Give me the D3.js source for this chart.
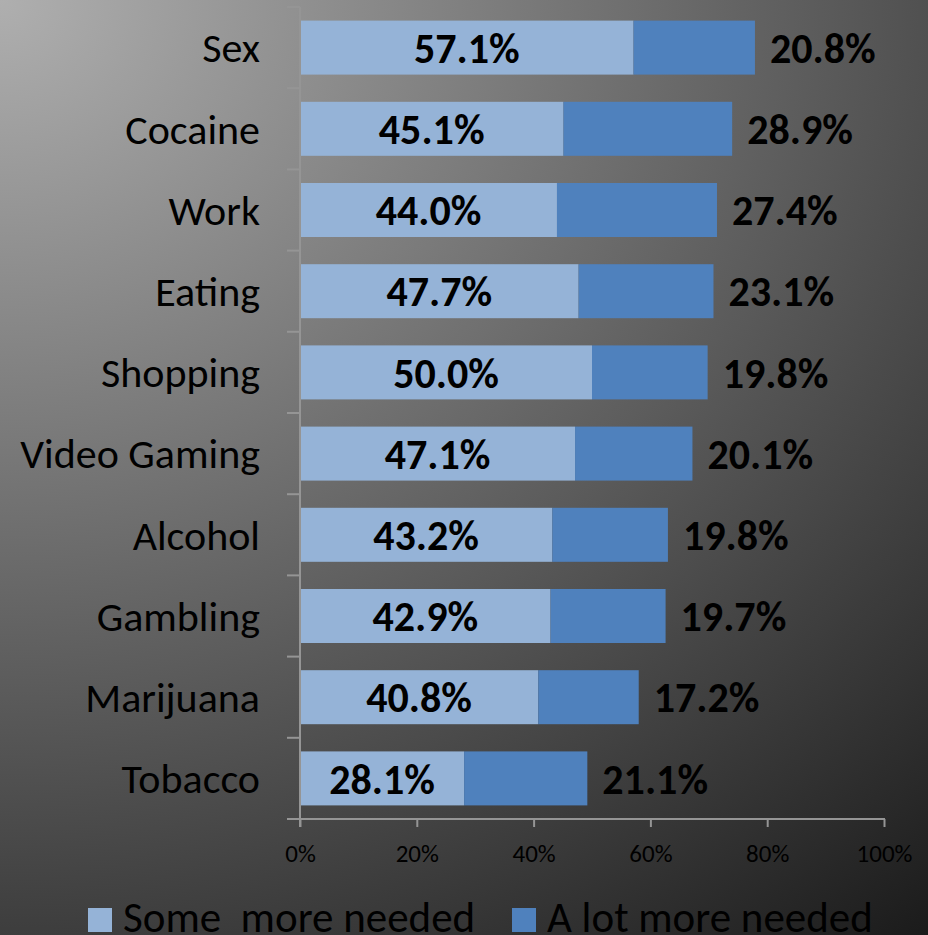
<!DOCTYPE html>
<html>
<head>
<meta charset="utf-8">
<script src="https://cdn.jsdelivr.net/npm/d3@7"></script>
<style>
  html, body { margin: 0; padding: 0; background: #333; }
  svg { display: block; }
  text { font-family: Carlito, Calibri, Lato, "Open Sans", sans-serif; fill: #000; }
</style>
</head>
<body>
<svg id="chart" width="928" height="935"></svg>
<script>
// Categories, top to bottom
const categories = ["Sex", "Cocaine", "Work", "Eating", "Shopping", "Video Gaming", "Alcohol", "Gambling", "Marijuana", "Tobacco"];
// Share answering "Some more needed" (%)
const someMore = [57.1, 45.1, 44.0, 47.7, 50.0, 47.1, 43.2, 42.9, 40.8, 28.1];
// Share answering "A lot more needed" (%)
const lotMore = [20.8, 28.9, 27.4, 23.1, 19.8, 20.1, 19.8, 19.7, 17.2, 21.1];
// Axis ticks
const xTicks = [0, 20, 40, 60, 80, 100];
const seriesNames = ["Some  more needed", "A lot more needed"];
const seriesColors = ["#95B3D7", "#4F81BD"];

const W = 928, H = 935;
const svg = d3.select("#chart");

// background: corner gradient, light at the top left, dark toward the bottom right
const defs = svg.append("defs");
const grad = defs.append("radialGradient")
  .attr("id", "bg")
  .attr("gradientUnits", "userSpaceOnUse")
  .attr("cx", 0).attr("cy", 0).attr("fx", 0).attr("fy", 0)
  .attr("r", 1448)
  .attr("gradientTransform", "scale(1,0.84)");
[[0, "#afafaf"], [1, "#1b1b1b"]]
  .forEach(([o, c]) => grad.append("stop").attr("offset", o).attr("stop-color", c));
svg.append("rect").attr("width", W).attr("height", H).attr("fill", "url(#bg)");

const plot = { left: 300, right: 884, top: 7, bottom: 819 };

const x = d3.scaleLinear().domain([0, 100]).range([plot.left, plot.right]);
const y = d3.scaleBand().domain(categories).range([plot.top, plot.bottom])
  .paddingInner(0.335).paddingOuter(0.1675);

const rows = categories.map((c, i) => ({ cat: c, a: someMore[i], b: lotMore[i] }));

// stacked bars
const g = svg.append("g");
g.selectAll("rect.some").data(rows).join("rect")
  .attr("class", "some")
  .attr("x", x(0))
  .attr("y", d => y(d.cat))
  .attr("width", d => x(d.a) - x(0))
  .attr("height", y.bandwidth())
  .attr("fill", seriesColors[0]);
g.selectAll("rect.lot").data(rows).join("rect")
  .attr("class", "lot")
  .attr("x", d => x(d.a))
  .attr("y", d => y(d.cat))
  .attr("width", d => x(d.a + d.b) - x(d.a))
  .attr("height", y.bandwidth())
  .attr("fill", seriesColors[1]);

// value labels
g.selectAll("text.vs").data(rows).join("text")
  .attr("class", "vs")
  .attr("x", d => (x(0) + x(d.a)) / 2)
  .attr("y", d => y(d.cat) + y.bandwidth() / 2)
  .attr("dy", "0.36em")
  .attr("text-anchor", "middle")
  .style("font-size", "42px").style("font-weight", "bold")
  .text(d => d.a.toFixed(1) + "%");
g.selectAll("text.vl").data(rows).join("text")
  .attr("class", "vl")
  .attr("x", d => x(d.a + d.b) + 15)
  .attr("y", d => y(d.cat) + y.bandwidth() / 2)
  .attr("dy", "0.36em")
  .attr("text-anchor", "start")
  .style("font-size", "42px").style("font-weight", "bold")
  .text(d => d.b.toFixed(1) + "%");

// y axis: boundaries between categories
const axisColor = "#959595";
const step = y.step();
const yAx = svg.append("g");
yAx.append("line")
  .attr("x1", plot.left).attr("x2", plot.left)
  .attr("y1", plot.top).attr("y2", plot.bottom + 8)
  .attr("stroke", axisColor).attr("stroke-width", 2);
yAx.selectAll("line.t").data(d3.range(categories.length + 1)).join("line")
  .attr("class", "t")
  .attr("x1", plot.left - 13).attr("x2", plot.left)
  .attr("y1", i => plot.top + i * step).attr("y2", i => plot.top + i * step)
  .attr("stroke", axisColor).attr("stroke-width", 2);
yAx.selectAll("text").data(categories).join("text")
  .attr("x", 260)
  .attr("y", d => y(d) + y.bandwidth() / 2)
  .attr("dy", "0.35em")
  .attr("text-anchor", "end")
  .style("font-size", "42px")
  .text(d => d);

// x axis
const xAxis = d3.axisBottom(x).tickValues(xTicks).tickFormat(d => d + "%").tickSize(8).tickSizeOuter(0);
const xAx = svg.append("g").attr("transform", `translate(0,${plot.bottom})`).call(xAxis);
xAx.select(".domain").remove();
xAx.append("line").attr("x1", plot.left - 13).attr("x2", plot.right + 1)
  .attr("stroke", axisColor).attr("stroke-width", 2);
xAx.selectAll(".tick line").attr("stroke", axisColor).attr("stroke-width", 2);
xAx.selectAll(".tick text")
  .attr("y", 34).attr("dy", "0.35em")
  .style("font-size", "25px").style("font-family", "Carlito, Calibri, Lato, 'Open Sans', sans-serif")
  .attr("fill", "#000");

// legend
const legend = svg.append("g");
const legX = [88, 512];
seriesNames.forEach((name, i) => {
  legend.append("rect").attr("x", legX[i]).attr("y", 908).attr("width", 24).attr("height", 24)
    .attr("fill", seriesColors[i]);
  legend.append("text").attr("x", legX[i] + 35).attr("y", 932)
    .style("font-size", "43px").style("white-space", "pre")
    .text(name);
});
</script>
</body>
</html>
